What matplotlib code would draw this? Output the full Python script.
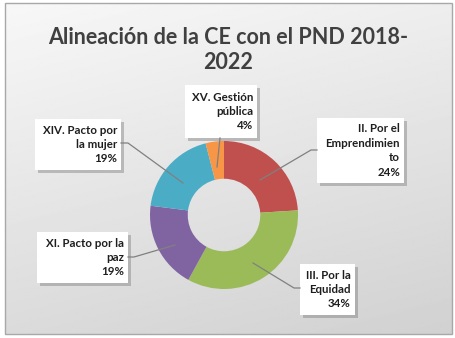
import numpy as np
import matplotlib.pyplot as plt
from matplotlib.patches import Rectangle

# slices, clockwise from 12 o'clock
labels = ["II. Por el\nEmprendimien\nto", "III. Por la\nEquidad", "XI. Pacto por la\npaz",
          "XIV. Pacto por\nla mujer", "XV. Gestión\npública"]
values = [24, 34, 19, 19, 4]
colors = ["#C0504D", "#9BBB59", "#8064A2", "#4BACC6", "#F79646"]

W, H = 456, 338
fig = plt.figure(figsize=(W / 100, H / 100), dpi=100)
fig.patch.set_facecolor("white")

# background axes in pixel coordinates
bg = fig.add_axes([0, 0, 1, 1])
bg.set_xlim(0, W)
bg.set_ylim(H, 0)
bg.axis("off")
gy, gx = np.mgrid[0:1:200j, 0:1:200j]
grad = 0.97 - 0.15 * (0.75 * gy + 0.25 * gx)
bg.imshow(grad, cmap="gray", vmin=0, vmax=1, extent=[5, 452, 334, 3],
          aspect="auto", interpolation="bilinear")
bg.add_patch(Rectangle((5, 3), 447, 331, fill=False, ec="#a8a8a8", lw=1))
bg.text(228, 50, "Alineación de la CE con el PND 2018-\n2022", ha="center", va="center",
        fontsize=15.5, fontweight="bold", color="#404040", family="Lato", linespacing=1.2)

# donut
pa = fig.add_axes([150 / W, 1 - 289 / H, 148 / W, 148 / H])
pa.pie(values, colors=colors, startangle=90, counterclock=False,
       wedgeprops=dict(width=0.51, edgecolor="none"))
pa.set_xlim(-1, 1)
pa.set_ylim(-1, 1)
pa.patch.set_visible(False)

# labels with boxes and leader lines
ov = fig.add_axes([0, 0, 1, 1])
ov.set_xlim(0, W)
ov.set_ylim(H, 0)
ov.axis("off")
ov.patch.set_visible(False)

boxes = [(317, 118, 87, 65), (300, 264, 55, 51), (37, 232, 91, 51), (35, 119, 86, 51), (185, 85, 72, 53)]
leaders = [[(260, 180), (311, 150), (317, 150)],
           [(253, 263), (294, 288), (300, 288)],
           [(175, 245), (134, 257), (128, 257)],
           [(183, 183), (128, 143), (121, 143)],
           [(217, 167), (220, 138)]]

for lab, v, (x, y, w, h), pts in zip(labels, values, boxes, leaders):
    ov.add_patch(Rectangle((x + 3, y + 3), w, h, fc="#808080", ec="none", alpha=0.45))
    ov.add_patch(Rectangle((x, y), w, h, fc="white", ec="none"))
    xs, ys = zip(*pts)
    ov.plot(xs, ys, color="#808080", lw=0.9)
    ov.text(x + w - 4, y + h / 2, f"{lab}\n{v}%", ha="right", va="center",
            multialignment="right", fontsize=8.3, fontweight="bold", color="#1e1e1e",
            family="Lato", linespacing=1.38)

fig.savefig("out.png", dpi=100)
